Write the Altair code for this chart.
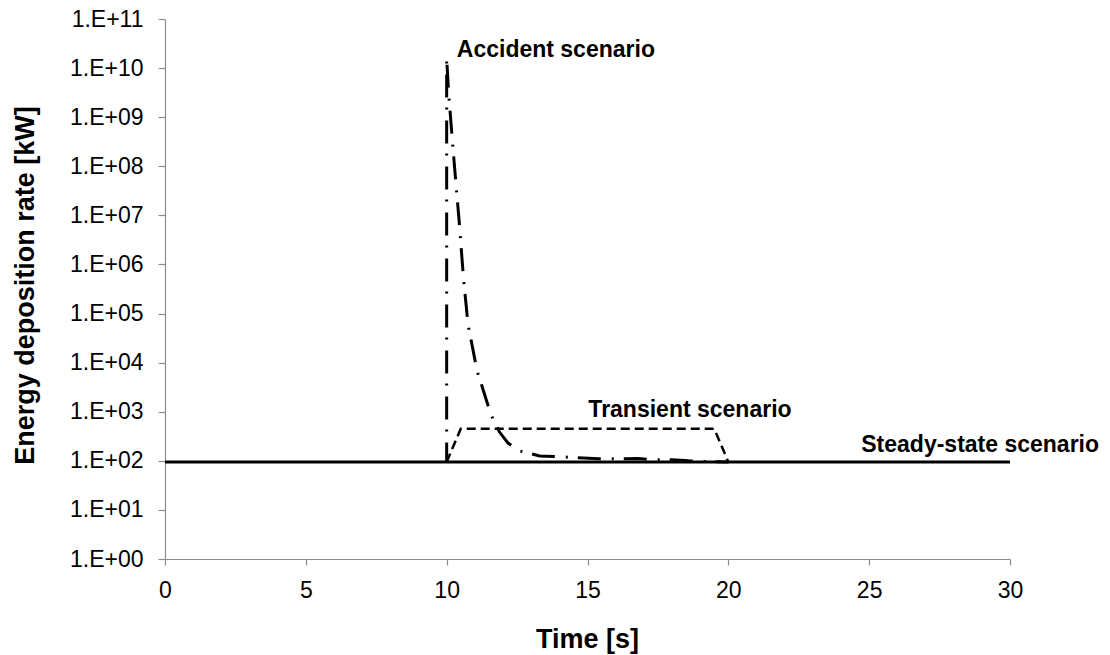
import altair as alt
import pandas as pd

# ---- data ----
steady_t = [0, 30]
steady_v = [95, 95]

transient_t = [10, 10.5, 19.5, 20]
transient_v = [95, 450, 450, 95]

accident_t = [10, 10.0, 10.07, 10.23, 10.44, 10.6, 10.76, 11.08, 11.58, 11.87,
              12.18, 12.57, 13.3, 14.1, 15.4, 16.3, 16.8, 17.3, 18.0, 18.6, 19.2, 20.0]
accident_v = [95, 1.6e10, 3.1e9, 2.1e8, 8e6, 5e5, 5.9e4, 6.8e3, 850, 390,
              230, 160, 126, 120, 110, 110, 112, 105, 105, 100, 97, 95]

label_text = ["Accident scenario", "Transient scenario", "Steady-state scenario"]
label_t = [10.36, 15.03, 24.72]
label_v = [1.66e10, 790, 149]

x_ticks = [0, 5, 10, 15, 20, 25, 30]
y_ticks = [1, 10, 1e2, 1e3, 1e4, 1e5, 1e6, 1e7, 1e8, 1e9, 1e10, 1e11]

FONT = "Liberation Sans"

def frame(t, v):
    return pd.DataFrame({"t": t, "v": v, "i": list(range(len(t)))})

x_scale = alt.Scale(domain=[0, 30], nice=False)
y_scale = alt.Scale(type="log", domain=[1, 1e11], nice=False)

x_enc = alt.X("t:Q", scale=x_scale, axis=alt.Axis(
    values=x_ticks, title="Time [s]", grid=False, labelFlush=False,
    titleX=422, titleY=88, titleBaseline="alphabetic", titleAlign="center"))
y_enc = alt.Y("v:Q", scale=y_scale, axis=alt.Axis(
    values=y_ticks, title="Energy deposition rate [kW]", grid=False, labelFlush=False,
    labelExpr="'1.E+' + format(round(log(datum.value)/LN10), '02d')",
    titleX=-132, titleY=266, titleAngle=270, titleBaseline="alphabetic",
    titleAlign="center", tickSize=7, labelPadding=15))

accident = alt.Chart(frame(accident_t, accident_v)).mark_line(
    color="black", strokeWidth=3, strokeDash=[23, 11, 2, 10], strokeDashOffset=3.5,
    strokeCap="butt"
).encode(x=x_enc, y=y_enc, order="i:Q")

transient = alt.Chart(frame(transient_t, transient_v)).mark_line(
    color="black", strokeWidth=2.5, strokeDash=[9, 5], strokeCap="butt"
).encode(x=x_enc, y=y_enc, order="i:Q")

steady = alt.Chart(frame(steady_t, steady_v)).mark_line(
    color="black", strokeWidth=3
).encode(x=x_enc, y=y_enc, order="i:Q")

labels = alt.Chart(pd.DataFrame({"t": label_t, "v": label_v, "txt": label_text})).mark_text(
    align="left", baseline="alphabetic", font=FONT, fontSize=23, fontWeight="bold",
    color="black"
).encode(x=alt.X("t:Q", scale=x_scale), y=alt.Y("v:Q", scale=y_scale), text="txt:N")

chart = alt.layer(accident, transient, steady, labels).properties(
    width=845, height=540,
    autosize=alt.AutoSizeParams(type="none"),
    padding={"left": 165, "top": 19, "right": 100, "bottom": 96},
).configure_view(strokeOpacity=0).configure_axis(
    domainColor="#8c8c8c", tickColor="#8c8c8c", domainWidth=1.2, tickWidth=1.2,
    labelFont=FONT, labelFontSize=23, labelColor="black",
    titleFont=FONT, titleFontSize=27, titleFontWeight="bold", titleColor="black",
).configure_axisX(tickSize=6, labelPadding=14)

chart.save("out.html", embed_options={"renderer": "svg", "actions": False})
